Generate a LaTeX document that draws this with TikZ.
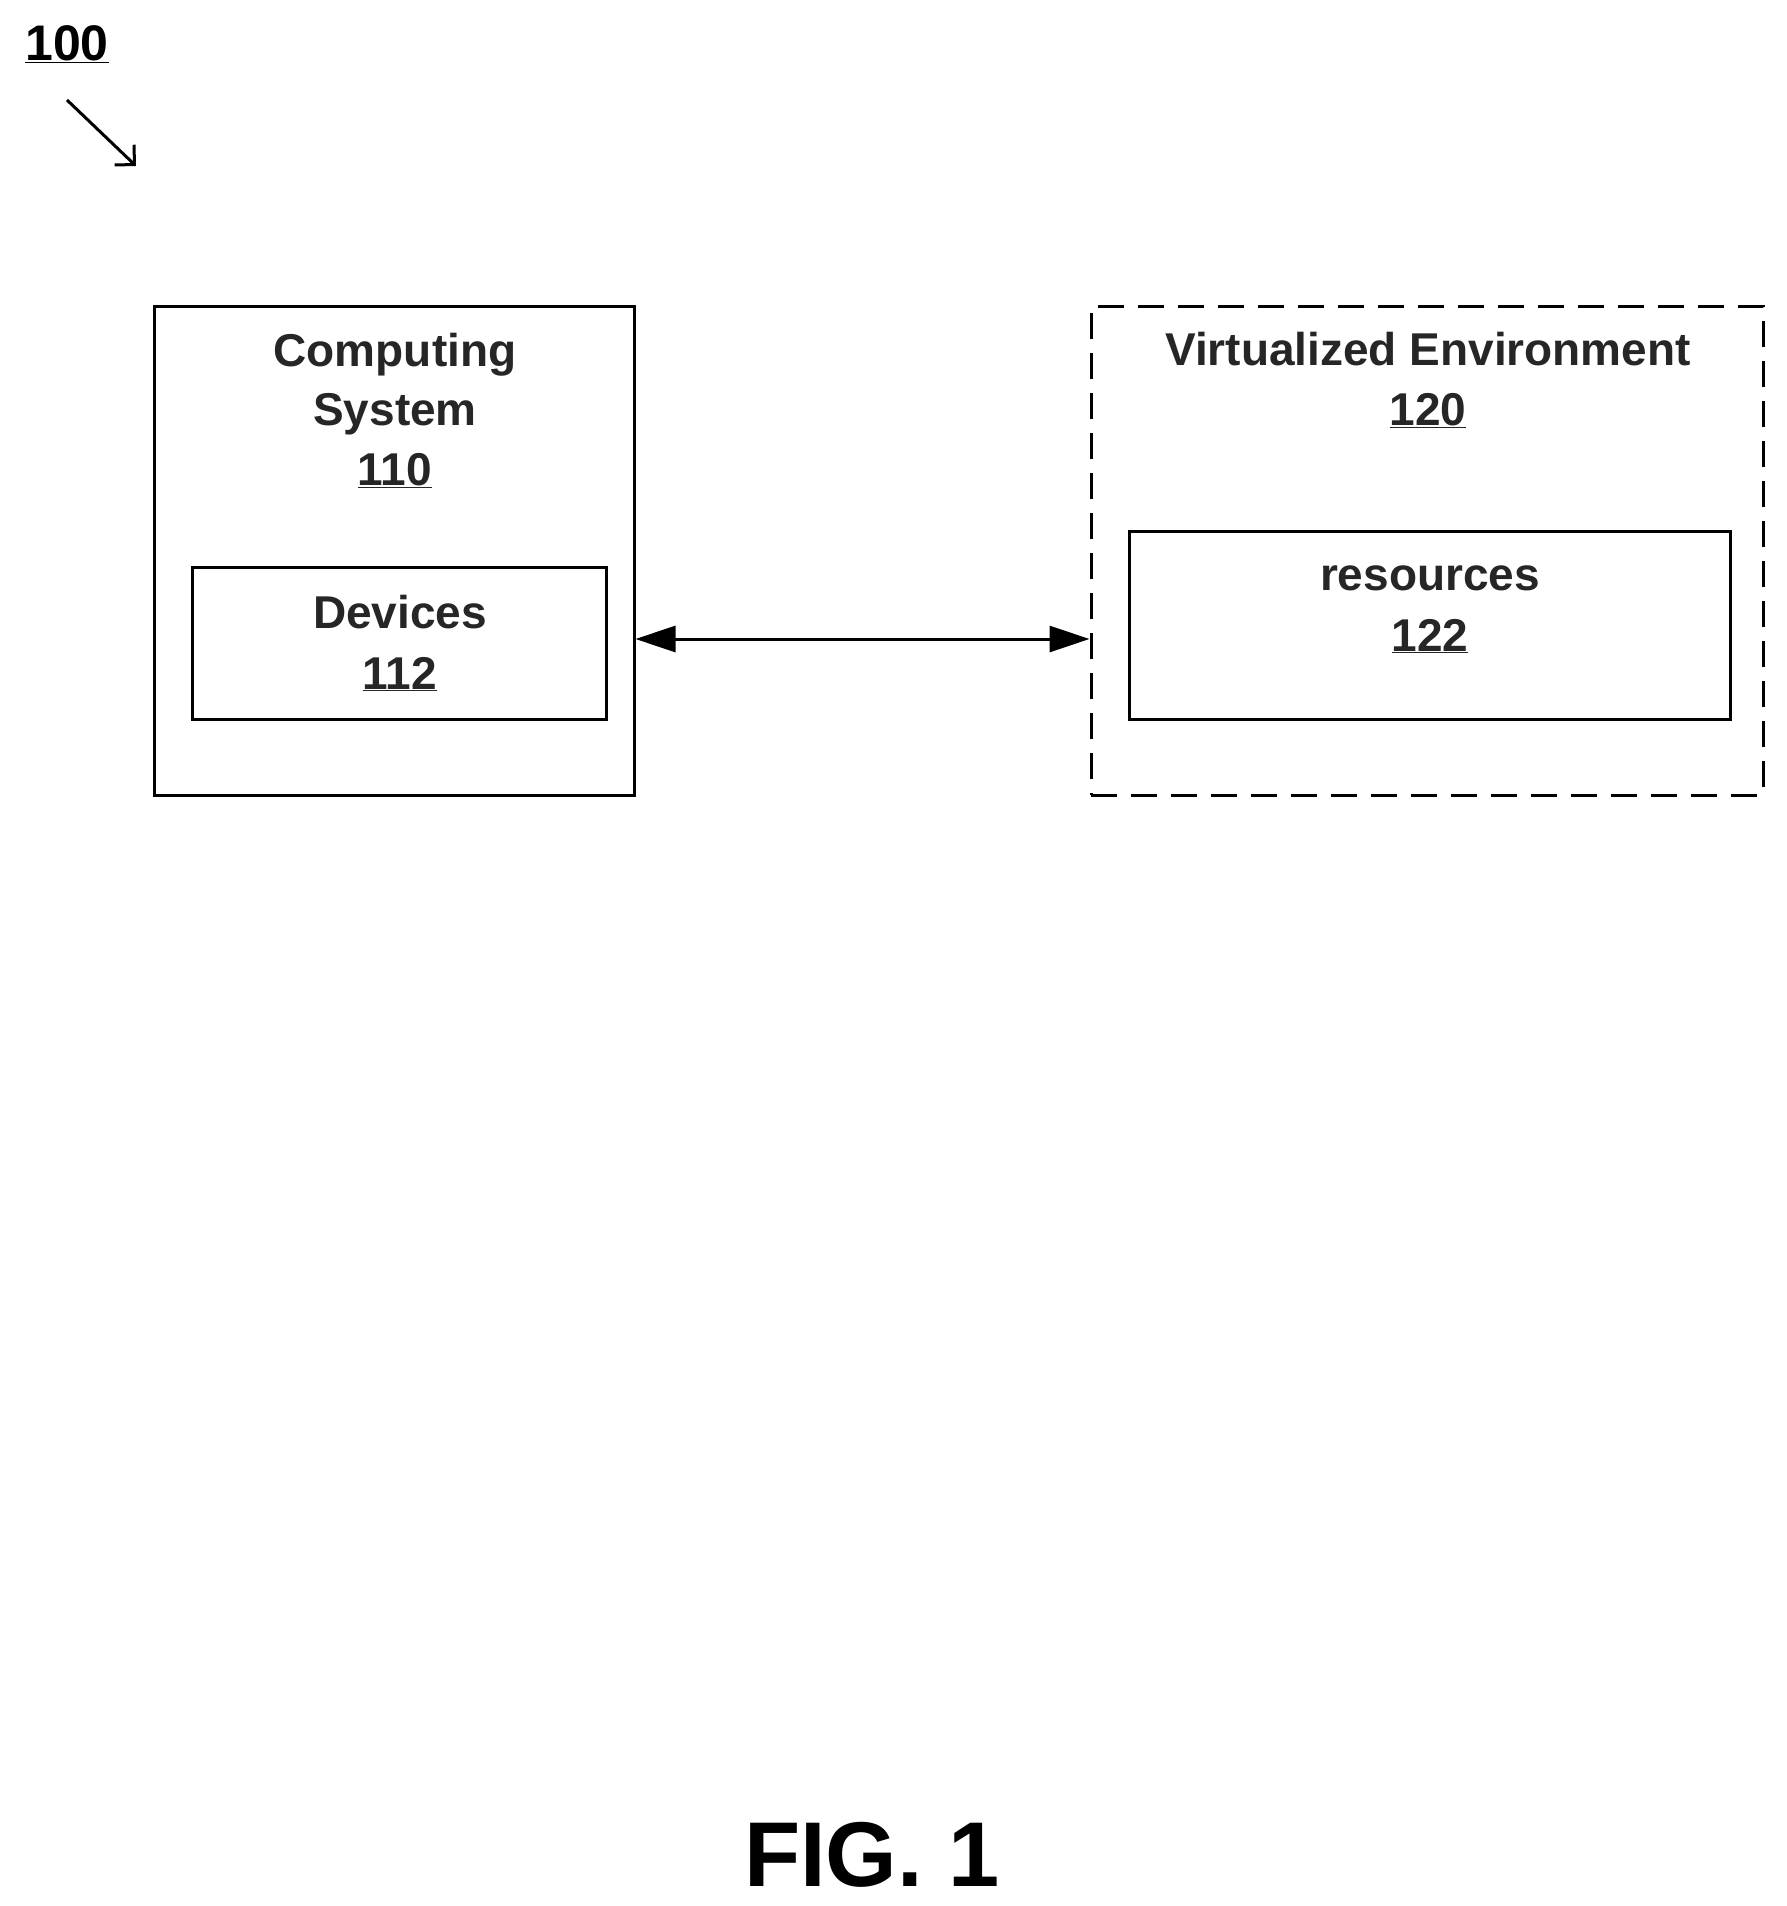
\documentclass[tikz,border=0pt]{standalone}
\usepackage{fontspec}
\setmainfont{Liberation Sans}
\usetikzlibrary{arrows.meta}
\begin{document}
\begin{tikzpicture}[x=1pt,y=-1pt,
  box/.style={draw,line width=3pt},
  lbl/.style={font=\fontsize{46}{56}\selectfont\bfseries,text=black!85,inner sep=0pt,anchor=base},
  num/.style={lbl}]
\useasboundingbox (0,0) rectangle (1786,1906);
\node[font=\fontsize{50}{60}\selectfont\bfseries,anchor=base,inner sep=0pt] (n100) at (67,60) {\underline{100}};
\coordinate (a1) at (67,100); \coordinate (a2) at (136,166);
\draw[line width=3pt,-{Straight Barb[length=14pt]}] (a1) -- (a2);
\node[box,minimum width=480pt,minimum height=489pt] (cs) at (394,550.5) {};
\node[box,minimum width=414pt,minimum height=152pt] (dev) at (399,643) {};
\node[box,dash pattern=on 26pt off 14pt,minimum width=672pt,minimum height=489pt] (ve) at (1427,550.5) {};
\node[box,minimum width=601pt,minimum height=188pt] (res) at (1429.5,625) {};
\node[lbl] (t1) at (395,366) {Computing};
\node[lbl] (t2) at (395,425) {System};
\node[num] (t3) at (395,485) {\underline{110}};
\node[lbl] (t4) at (400,628) {Devices};
\node[num] (t5) at (400,689) {\underline{112}};
\node[lbl] (t6) at (1428,365) {Virtualized Environment};
\node[num] (t7) at (1428,425) {\underline{120}};
\node[lbl] (t8) at (1430,590) {resources};
\node[num] (t9) at (1430,651) {\underline{122}};
\draw[line width=3pt,{Triangle[length=40pt,width=26pt]}-{Triangle[length=40pt,width=26pt]}] (cs.east|-0,639) -- (ve.west|-0,639);
\node[font=\fontsize{92}{100}\selectfont\bfseries,anchor=base,inner sep=0pt] (fig) at (872,1886) {FIG. 1};
\end{tikzpicture}
\end{document}
